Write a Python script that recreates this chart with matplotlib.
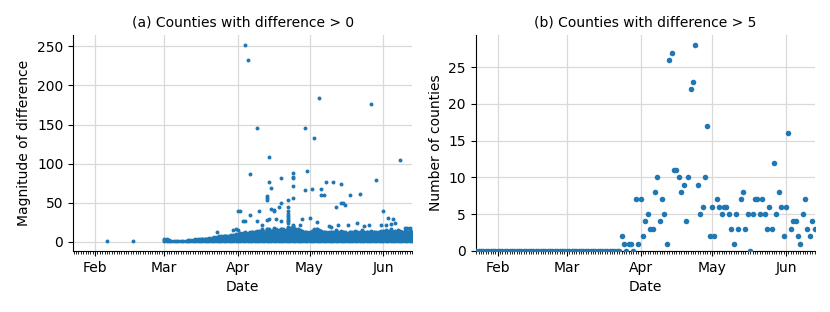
import numpy as np
import pandas as pd
import matplotlib
matplotlib.use("Agg")
import matplotlib.pyplot as plt
import matplotlib.dates as mdates

# --- panel (a): counties with difference > 0 ---------------------------
# dense cluster: from Mar 1 on, every integer difference 1..band_top occurs
band_start = "2020-03-01"
band_top = [
    # Mar 1-31
    3, 3, 2, 1, 1, 1, 1, 1, 1, 1, 2, 2, 2, 3, 3, 3, 4, 4, 4, 5, 5, 6, 6, 7, 7, 8, 8, 8, 9, 9, 10,
    # Apr 1-30
    10, 11, 11, 12, 11, 12, 13, 13, 14, 14, 16, 13, 17, 16, 14, 18, 16, 15, 17, 16,
    15, 19, 18, 21, 17, 16, 15, 14, 13, 12,
    # May 1-31
    12, 14, 16, 17, 15, 14, 13, 12, 12, 13, 12, 15, 12, 14, 13, 12, 11, 13, 12, 14,
    13, 12, 15, 12, 13, 12, 14, 13, 12, 13, 14,
    # Jun 1-13
    14, 15, 14, 16, 13, 14, 15, 14, 13, 14, 13, 15, 12,
]

# single counties outside the dense cluster
outlier_dates = [
    "2020-02-06", "2020-02-17",
    "2020-03-23", "2020-03-30", "2020-03-31", "2020-04-01", "2020-04-01", "2020-04-02",
    "2020-04-03", "2020-04-04", "2020-04-04", "2020-04-05", "2020-04-06", "2020-04-06",
    "2020-04-09", "2020-04-09", "2020-04-10", "2020-04-11", "2020-04-13", "2020-04-13",
    "2020-04-13", "2020-04-13", "2020-04-14", "2020-04-14", "2020-04-14", "2020-04-15",
    "2020-04-15", "2020-04-16", "2020-04-16", "2020-04-17", "2020-04-18", "2020-04-19",
    "2020-04-19", "2020-04-19", "2020-04-22", "2020-04-22", "2020-04-22", "2020-04-22",
    "2020-04-22", "2020-04-22", "2020-04-22", "2020-04-22", "2020-04-22", "2020-04-24",
    "2020-04-24", "2020-04-24", "2020-04-24", "2020-04-24", "2020-04-27", "2020-04-28",
    "2020-04-29", "2020-04-29", "2020-04-30", "2020-05-01", "2020-05-02", "2020-05-03",
    "2020-05-04", "2020-05-05", "2020-05-06", "2020-05-06", "2020-05-07", "2020-05-08",
    "2020-05-09", "2020-05-10", "2020-05-11", "2020-05-12", "2020-05-13", "2020-05-14",
    "2020-05-14", "2020-05-15", "2020-05-16", "2020-05-17", "2020-05-18", "2020-05-21",
    "2020-05-22", "2020-05-24", "2020-05-26", "2020-05-27", "2020-05-29", "2020-05-31",
    "2020-06-01", "2020-06-02", "2020-06-03", "2020-06-04", "2020-06-05", "2020-06-06",
    "2020-06-08", "2020-06-10", "2020-06-11", "2020-06-12",
]
outlier_values = [
    1, 1,
    13, 15, 17, 39, 15, 39,
    27, 252, 27, 232, 87, 34,
    145, 27, 39, 21, 58, 56,
    54, 28, 108, 76, 29, 69,
    42, 41, 39, 29, 44, 81,
    49, 26, 54, 44, 40, 36,
    33, 30, 28, 26, 24, 88,
    83, 81, 72, 56, 22, 29,
    146, 66, 91, 30, 67, 133,
    25, 184, 68, 60, 60, 76,
    20, 19, 77, 45, 22, 74,
    50, 50, 47, 21, 60, 24,
    61, 20, 22, 176, 79, 21,
    40, 22, 30, 23, 29, 24,
    105, 18, 18, 18,
]

# --- panel (b): counties with difference > 5, per day --------------------
count_start = "2020-01-22"
counts = [
    # Jan 22-31
    0, 0, 0, 0, 0, 0, 0, 0, 0, 0,
    # Feb 1-29
    0, 0, 0, 0, 0, 0, 0, 0, 0, 0, 0, 0, 0, 0, 0, 0, 0, 0, 0, 0, 0, 0, 0, 0, 0, 0, 0, 0, 0,
    # Mar 1-31
    0, 0, 0, 0, 0, 0, 0, 0, 0, 0, 0, 0, 0, 0, 0, 0, 0, 0, 0, 0, 0, 0, 0,
    2, 1, 0, 1, 1, 0, 7, 1,
    # Apr 1-30
    7, 2, 4, 5, 3, 3, 8, 10, 4, 7, 5, 1, 26, 27, 11, 11, 10, 8, 9, 4,
    10, 22, 23, 28, 9, 5, 6, 10, 17, 2,
    # May 1-31
    6, 2, 7, 6, 5, 6, 6, 5, 3, 1, 5, 3, 7, 8, 3, 5, 0, 5, 7, 7,
    5, 7, 5, 3, 6, 3, 12, 5, 8, 6, 2,
    # Jun 1-13
    6, 16, 3, 4, 4, 2, 1, 5, 7, 3, 2, 4, 3,
]

BLUE = "#1f77b4"

# build the scatter for panel (a)
band_days = pd.date_range(band_start, periods=len(band_top), freq="D")
xa, ya = [], []
for day, top in zip(band_days, band_top):
    for v in range(1, top + 1):
        xa.append(day)
        ya.append(v)
xa += list(pd.to_datetime(outlier_dates))
ya += outlier_values

count_days = pd.date_range(count_start, periods=len(counts), freq="D")

fig, (ax1, ax2) = plt.subplots(1, 2, figsize=(8.3, 3.12), dpi=100)
fig.subplots_adjust(left=0.088, right=0.982, bottom=0.196, top=0.888, wspace=0.186)

ax1.scatter(xa, ya, s=8, color=BLUE, linewidths=0, zorder=3)
ax2.scatter(count_days, counts, s=16, color=BLUE, linewidths=0, zorder=3)

xlim = (pd.Timestamp("2020-01-22 18:00"), pd.Timestamp("2020-06-13 05:00"))
for ax in (ax1, ax2):
    ax.set_xlim(*xlim)
    ax.xaxis.set_major_locator(mdates.MonthLocator())
    ax.xaxis.set_major_formatter(mdates.DateFormatter("%b"))
    ax.xaxis.set_minor_locator(mdates.DayLocator())
    ax.tick_params(axis="x", which="minor", length=2, width=0.6)
    ax.grid(True, which="major", color="#d9d9d9", linewidth=0.9)
    ax.set_axisbelow(True)
    ax.spines["top"].set_visible(False)
    ax.spines["right"].set_visible(False)
    ax.set_xlabel("Date", fontsize=10)

ax1.set_yticks([0, 50, 100, 150, 200, 250])
ax1.set_ylabel("Magnitude of difference", fontsize=10)
ax1.set_title("(a) Counties with difference > 0", fontsize=10)

ax2.set_ylim(bottom=0)
ax2.set_yticks([0, 5, 10, 15, 20, 25])
ax2.set_ylabel("Number of counties", fontsize=10)
ax2.set_title("(b) Counties with difference > 5", fontsize=10)

fig.savefig("out.png", dpi=100)
